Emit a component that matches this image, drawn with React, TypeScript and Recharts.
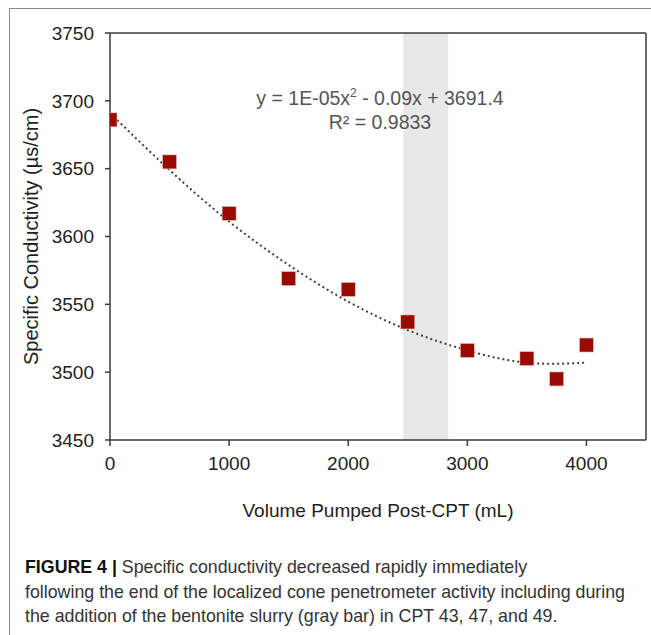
import React from 'react';
import {
  ComposedChart,
  Scatter,
  Line,
  XAxis,
  YAxis,
  ReferenceArea,
  ReferenceLine,
} from 'recharts';

// measured points (volume mL, conductivity µs/cm)
const volumes = [0, 500, 1000, 1500, 2000, 2500, 3000, 3500, 3750, 4000];
const conductivity = [3686, 3655, 3617, 3569, 3561, 3537, 3516, 3510, 3495, 3520];

// dotted trendline
const trendVolumes = [0, 500, 1000, 1500, 2000, 2500, 3000, 3500, 4000];
const trendValues = [3691, 3649, 3611, 3579, 3552, 3531, 3516, 3507, 3507];

const xTicks = [0, 1000, 2000, 3000, 4000];
const yTicks = [3450, 3500, 3550, 3600, 3650, 3700, 3750];

// bentonite slurry window (gray bar)
const slurryStart = 2460;
const slurryEnd = 2840;

const points = volumes.map((v, i) => ({ x: v, y: conductivity[i] }));
const trend = trendVolumes.map((v, i) => ({ x: v, y: trendValues[i] }));

const font = '"Liberation Sans", Arial, sans-serif';
const axisColor = '#3a3a3a';

const Square = (props: any) => {
  const { cx, cy } = props;
  if (cx == null || cy == null) return null;
  return <rect x={cx - 7} y={cy - 7} width={14} height={14} fill="#990a00" stroke="#e9c0bc" strokeWidth={0.6} />;
};

export default function App() {
  return (
    <div style={{ position: 'absolute', left: 0, top: 0, width: 651, height: 635, background: '#fff', fontFamily: font }}>
      <div style={{ position: 'absolute', left: 9, top: 8, width: 642, height: 627, borderTop: '1.5px solid #8a8a8a', borderLeft: '1.5px solid #8a8a8a' }} />
      <div style={{ position: 'absolute', left: 0, top: 0 }}>
        <ComposedChart width={651} height={540} margin={{ top: 33, right: 5, bottom: 0, left: 0 }}>
          <XAxis
            dataKey="x"
            type="number"
            domain={[0, 4500]}
            ticks={xTicks}
            allowDataOverflow
            stroke={axisColor}
            strokeWidth={1.5}
            tickSize={6}
            tickMargin={11}
            height={100}
            tick={{ fill: '#222', fontSize: 19, fontFamily: font }}
            label={{ value: 'Volume Pumped Post-CPT (mL)', position: 'insideBottom', offset: 23, fill: '#222', fontSize: 19, fontFamily: font }}
          />
          <YAxis
            dataKey="y"
            type="number"
            domain={[3450, 3750]}
            ticks={yTicks}
            allowDataOverflow
            stroke={axisColor}
            strokeWidth={1.5}
            width={110}
            tickSize={5}
            tickMargin={11}
            tick={{ fill: '#222', fontSize: 19, fontFamily: font }}
            label={{ value: 'Specific Conductivity (µs/cm)', angle: -90, position: 'insideLeft', offset: 31, style: { textAnchor: 'middle' }, fill: '#222', fontSize: 20, fontFamily: font }}
          />
          <ReferenceArea x1={slurryStart} x2={slurryEnd} y1={3450} y2={3750} fill="#e8e8e8" fillOpacity={1} stroke="none" />
          <ReferenceLine y={3750} stroke={axisColor} strokeWidth={1.5} />
          <ReferenceLine x={4500} stroke={axisColor} strokeWidth={1.5} />
          <Line
            data={trend}
            dataKey="y"
            type="natural"
            stroke="#404040"
            strokeWidth={2}
            strokeDasharray="2 3"
            dot={false}
            activeDot={false}
            isAnimationActive={false}
          />
          <Scatter data={points} dataKey="y" shape={<Square />} isAnimationActive={false} />
        </ComposedChart>
      </div>
      <div style={{ position: 'absolute', left: 180, width: 400, top: 86, textAlign: 'center', color: '#555', fontSize: 19.5, lineHeight: '24px' }}>
        <div>
          y = 1E-05x<sup style={{ fontSize: 12, verticalAlign: 'top', lineHeight: '14px' }}>2</sup> - 0.09x + 3691.4
        </div>
        <div>R² = 0.9833</div>
      </div>
      <div
        style={{
          position: 'absolute',
          left: 25,
          top: 555,
          width: 626,
          color: '#333',
          fontSize: 17.8,
          lineHeight: '24.5px',
          fontFamily: font,
          whiteSpace: 'nowrap',
        }}
      >
        <b style={{ color: '#111' }}>FIGURE 4 |</b> Specific conductivity decreased rapidly immediately
        <br />
        following the end of the localized cone penetrometer activity including during
        <br />
        the addition of the bentonite slurry (gray bar) in CPT 43, 47, and 49.
      </div>
    </div>
  );
}
